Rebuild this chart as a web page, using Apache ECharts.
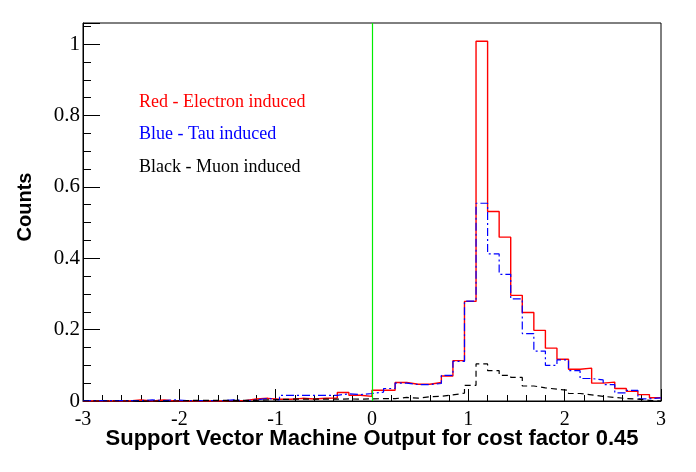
<!DOCTYPE html>
<html>
<head>
<meta charset="utf-8">
<script src="https://cdn.jsdelivr.net/npm/echarts@6/dist/echarts.min.js"></script>
<style>
  html, body { margin: 0; padding: 0; background: #fff; }
  #chart { width: 696px; height: 472px; }
</style>
</head>
<body>
<div id="chart"></div>
<script>
// Histogram binning: 50 bins of width 0.12 from -3 to 3
const xMin = -3;
const xMax = 3;
const binWidth = 0.12;

// Bin contents (normalized counts), one per bin
const electronCounts = [
  0, 0, 0, 0, 0.003, 0, 0.003, 0, 0, 0,
  0, 0, 0.001, 0.001, 0.0056, 0.0075, 0.005, 0.005, 0.0075, 0.0056,
  0.0075, 0.0084, 0.024, 0.016, 0.013, 0.030, 0.030, 0.052, 0.047, 0.047,
  0.052, 0.070, 0.113, 0.279, 1.008, 0.531, 0.459, 0.296, 0.248, 0.198,
  0.148, 0.117, 0.089, 0.092, 0.050, 0.053, 0.035, 0.027, 0.018, 0.009
];
const tauCounts = [
  0.001, 0.001, 0.001, 0.001, 0.001, 0.003, 0.001, 0.003, 0.001, 0.001,
  0.001, 0.001, 0.003, 0.001, 0.003, 0.0075, 0.003, 0.016, 0.016, 0.016,
  0.016, 0.016, 0.020, 0.018, 0.021, 0.025, 0.035, 0.050, 0.046, 0.046,
  0.049, 0.072, 0.111, 0.280, 0.554, 0.412, 0.355, 0.286, 0.189, 0.140,
  0.100, 0.115, 0.085, 0.063, 0.059, 0.046, 0.023, 0.030, 0.006, 0.009
];
const muonCounts = [
  0, 0, 0, 0, 0, 0, 0, 0, 0.001, 0.002,
  0.002, 0.002, 0.002, 0.002, 0.002, 0.003, 0.004, 0.005, 0.005, 0.005,
  0.005, 0.005, 0.006, 0.005, 0.006, 0.0065, 0.0065, 0.010, 0.008, 0.012,
  0.013, 0.017, 0.022, 0.044, 0.104, 0.085, 0.072, 0.066, 0.042, 0.037,
  0.033, 0.030, 0.021, 0.017, 0.013, 0.010, 0.007, 0.005, 0.002, 0
];

// Axis ticks
const xTicks = [-3, -2, -1, 0, 1, 2, 3];
const yTicks = [0, 0.2, 0.4, 0.6, 0.8, 1];

// Legend lines
const legendLines = [
  { text: 'Red - Electron induced', color: '#ff0000' },
  { text: 'Blue - Tau induced', color: '#0000ff' },
  { text: 'Black - Muon induced', color: '#000000' }
];

const xTitle = 'Support Vector Machine Output for cost factor 0.45';
const yTitle = 'Counts';

function toSteps(counts) {
  const pts = counts.map((v, i) => [xMin + i * binWidth, v]);
  pts.push([xMin + counts.length * binWidth, counts[counts.length - 1]]);
  return pts;
}

const chart = echarts.init(document.getElementById('chart'), null, { renderer: 'canvas' });

const GRID = { left: 83, right: 35, top: 23, bottom: 71 };

const option = {
  animation: false,
  backgroundColor: '#ffffff',
  grid: {
    left: GRID.left, right: GRID.right, top: GRID.top, bottom: GRID.bottom,
    show: true, borderColor: '#000', borderWidth: 1, backgroundColor: 'transparent'
  },
  xAxis: {
    type: 'value',
    min: xMin, max: xMax, interval: 1,
    axisLine: { show: true, onZero: false, lineStyle: { color: '#000', width: 1 } },
    axisTick: { show: true, inside: true, length: 12, lineStyle: { color: '#000', width: 1 } },
    minorTick: { show: true, splitNumber: 5, length: 6, lineStyle: { color: '#000', width: 1 } },
    splitLine: { show: false },
    axisLabel: {
      show: true, margin: 9, color: '#000',
      fontFamily: 'Liberation Serif', fontSize: 20,
      formatter: v => (xTicks.includes(Math.round(v)) ? String(Math.round(v)) : '')
    }
  },
  yAxis: {
    type: 'value',
    min: 0, max: 1.059, interval: 0.2,
    axisLine: { show: true, onZero: false, lineStyle: { color: '#000', width: 1 } },
    axisTick: { show: true, inside: true, length: 17, lineStyle: { color: '#000', width: 1 } },
    minorTick: { show: true, splitNumber: 4, length: 8, lineStyle: { color: '#000', width: 1 } },
    splitLine: { show: false },
    axisLabel: {
      show: true, margin: 3, color: '#000',
      fontFamily: 'Liberation Serif', fontSize: 21,
      showMaxLabel: false,
      formatter: v => {
        const t = yTicks.find(y => Math.abs(y - v) < 1e-6);
        return t === undefined ? '' : String(t);
      }
    }
  },
  series: [
    {
      name: 'Electron', type: 'line', step: 'end', symbol: 'none',
      data: toSteps(electronCounts),
      lineStyle: { color: '#ff0000', width: 1.4 },
      z: 2,
      markLine: {
        silent: true, symbol: 'none', label: { show: false },
        lineStyle: { color: '#00ee00', width: 1.2, type: 'solid' },
        data: [{ xAxis: 0 }]
      }
    },
    {
      name: 'Tau', type: 'line', step: 'end', symbol: 'none',
      data: toSteps(tauCounts),
      lineStyle: { color: '#0000ff', width: 1.2, type: [8, 3, 2, 3] },
      z: 3
    },
    {
      name: 'Muon', type: 'line', step: 'end', symbol: 'none',
      data: toSteps(muonCounts),
      lineStyle: { color: '#000000', width: 1.2, type: [6, 4] },
      z: 4
    }
  ],
  graphic: [
    ...legendLines.map((l, i) => ({
      type: 'text', left: 139, top: 93 + i * 32.7,
      style: { text: l.text, fill: l.color, font: '18px "Liberation Serif"' }
    })),
    {
      type: 'text', x: 372, y: 439,
      style: {
        text: xTitle, fill: '#000', font: 'bold 22px "Liberation Sans"',
        align: 'center', verticalAlign: 'middle'
      }
    },
    {
      type: 'text', x: 25, y: 207, rotation: Math.PI / 2,
      style: {
        text: yTitle, fill: '#000', font: 'bold 20px "Liberation Sans"',
        align: 'center', verticalAlign: 'middle'
      }
    }
  ]
};

chart.setOption(option);
</script>
</body>
</html>
